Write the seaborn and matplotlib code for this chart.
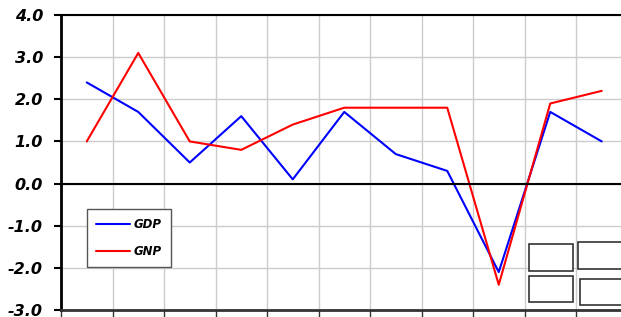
import matplotlib
matplotlib.use("Agg")
import matplotlib.pyplot as plt
import seaborn as sns
import pandas as pd
import numpy as np
from matplotlib.patches import Rectangle

periods = list(range(11))
gdp = [2.4, 1.7, 0.5, 1.6, 0.1, 1.7, 0.7, 0.3, -2.1, 1.7, 1.0]
gnp = [1.0, 3.1, 1.0, 0.8, 1.4, 1.8, 1.8, 1.8, -2.4, 1.9, 2.2]
series_names = ["GDP", "GNP"]
series_colors = ["#0000ff", "#ff0000"]
y_ticks = [-3.0, -2.0, -1.0, 0.0, 1.0, 2.0, 3.0, 4.0]

df = pd.DataFrame({
    "period": periods * 2,
    "value": gdp + gnp,
    "series": ["GDP"] * len(gdp) + ["GNP"] * len(gnp),
})

sns.set_style("white")
plt.rcParams['font.family'] = ['DejaVu Sans']

W, H = 621, 317
fig = plt.figure(figsize=(W / 100, H / 100), dpi=100)
ax = fig.add_axes([61 / W, (H - 310) / H, 566.5 / W, 295 / H])

sns.lineplot(data=df, x="period", y="value", hue="series", hue_order=series_names,
             palette=series_colors, linewidth=1.5, ax=ax, legend=True)

ax.set_xlim(-0.5, 10.5)
ax.set_ylim(-3, 4)
ax.set_xlabel("")
ax.set_ylabel("")

# grid
ax.set_xticks([p + 0.5 for p in periods[:-1]] + [-0.5], minor=False)
ax.set_xticklabels([])
ax.set_yticks(y_ticks)
ax.set_yticklabels([f"{v:.1f}" for v in y_ticks], fontsize=11.5,
                   fontweight="bold", fontstyle="italic", color="black")
ax.grid(True, color="#cccccc", linewidth=1)
ax.set_axisbelow(True)
ax.axhline(0, color="black", linewidth=1.5, zorder=2)

ax.tick_params(axis="y", direction="out", length=5, width=1.5, color="black",
               left=True, pad=8)
ax.tick_params(axis="x", direction="out", length=7, width=1, color="#333333",
               bottom=True)

ax.spines["left"].set_color("black")
ax.spines["left"].set_linewidth(2)
ax.spines["bottom"].set_color("#333333")
ax.spines["bottom"].set_linewidth(2)
ax.spines["top"].set_color("black")
ax.spines["top"].set_linewidth(1.5)
ax.spines["right"].set_visible(False)

leg = ax.legend(loc="upper left", bbox_to_anchor=(87 / W, 1 - 209 / H),
                bbox_transform=fig.transFigure, frameon=True, fancybox=False,
                edgecolor="#555555", framealpha=1, borderaxespad=0,
                handlelength=2.9, handletextpad=0.3, labelspacing=1.2,
                borderpad=0.75, prop={"size": 8.5, "weight": "bold", "style": "italic"})
leg.get_frame().set_linewidth(1)
for t in leg.get_texts():
    t.set_color("black")
for line in leg.get_lines():
    line.set_linewidth(1.5)

# empty boxes at the lower right
boxes = [(529, 244, 44, 27), (578, 242, 50, 27), (529, 276, 44, 26), (580, 279, 50, 26)]
for (x, y, w, h) in boxes:
    fig.patches.append(Rectangle((x / W, 1 - (y + h) / H), w / W, h / H,
                                 transform=fig.transFigure, facecolor="white",
                                 edgecolor="#333333", linewidth=1.2, zorder=5))

fig.savefig("out.png", dpi=100)
